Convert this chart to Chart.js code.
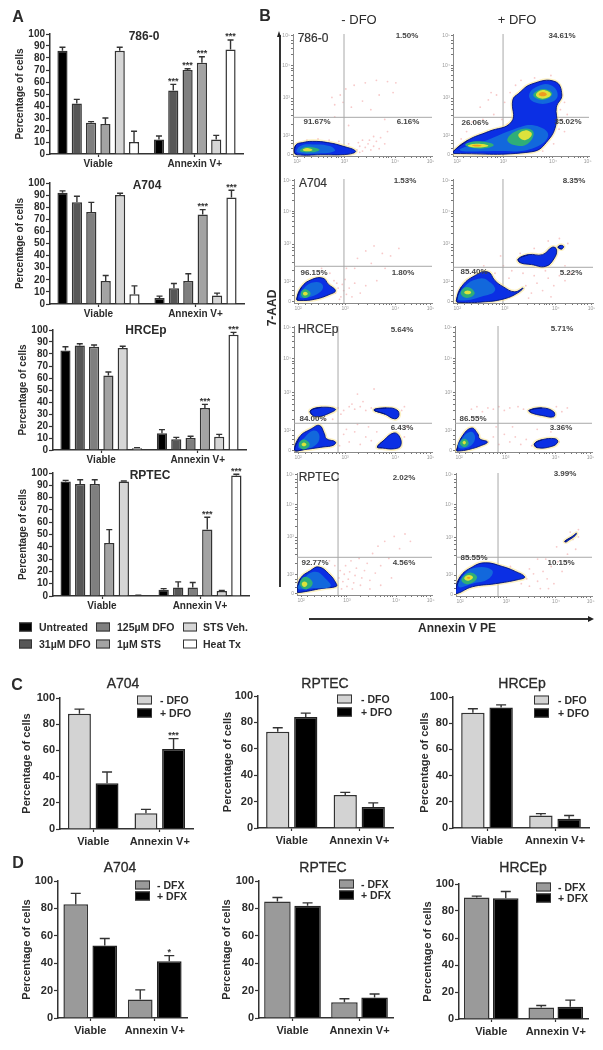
<!DOCTYPE html>
<html>
<head>
<meta charset="utf-8">
<script src="https://cdn.jsdelivr.net/npm/chart.js@4"></script>
<style>
html, body { margin: 0; padding: 0; background: #fff; }
#fig { position: relative; width: 603px; height: 1050px; overflow: hidden; filter: blur(0.55px); font-family: "Liberation Sans", sans-serif; color: #2b2b2b; }
#fig canvas { position: absolute; }
.txt { position: absolute; white-space: nowrap; transform: translate(-50%, -50%); }
.leg { position: absolute; white-space: nowrap; transform: translateY(-50%); font-weight: bold; }
.sw { position: absolute; box-sizing: border-box; border: 1.5px solid #333; transform: translateY(-50%); }
.rule { position: absolute; background: #333; }
</style>
</head>
<body>
<div id="fig"></div>
<script>
// ---- bar chart data ----
var categories = ['Viable', 'Annexin V+'];
var treatments = ['Untreated', '31µM DFO', '125µM DFO', '1µM STS', 'STS Veh.', 'Heat Tx'];
var pctTicks = [0, 10, 20, 30, 40, 50, 60, 70, 80, 90, 100];
var pctTicksWide = [0, 20, 40, 60, 80, 100];

var a786Viable = [86, 42, 26, 25, 86, 10];
var a786Annexin = [12, 53, 70, 76, 12, 87];
var a786ViableErr = [3, 3.5, 1, 5, 3, 9];
var a786AnnexinErr = [3, 5, 1, 5, 3.5, 8];
var a786Stars = ['', '***', '***', '***', '', '***'];

var a704Viable = [92, 84, 76, 19, 90, 8];
var a704Annexin = [5, 13, 19, 74, 7, 88];
var a704ViableErr = [1.5, 5, 8, 4.5, 1.5, 7];
var a704AnnexinErr = [1.5, 4, 6, 4, 2, 6];
var a704Stars = ['', '', '', '***', '', '***'];

var hrcViable = [83, 87, 86, 62, 85, 1.5];
var hrcAnnexin = [14, 9, 10, 35, 11, 96];
var hrcViableErr = [3, 1.5, 1.5, 3, 1.5, 0.5];
var hrcAnnexinErr = [3, 1.5, 1.5, 3, 2, 2];
var hrcStars = ['', '', '', '***', '', '***'];

var rptViable = [93, 91, 91, 43, 93, 0.5];
var rptAnnexin = [5, 7, 7, 54, 4, 98];
var rptViableErr = [1, 3.5, 3.5, 11, 0.5, 0.2];
var rptAnnexinErr = [1, 4.5, 4, 10, 0.5, 1];
var rptStars = ['', '', '', '***', '', '***'];

// panel C, - DFO / + DFO
var cA704Minus = [88, 12], cA704MinusErr = [3.5, 3];
var cA704Plus = [35, 61], cA704PlusErr = [8.5, 8];
var cA704PlusStars = ['', '***'];
var cRptMinus = [73, 25], cRptMinusErr = [3, 2];
var cRptPlus = [84, 16], cRptPlusErr = [3, 3];
var cHrcMinus = [88, 9.5], cHrcMinusErr = [3, 1.5];
var cHrcPlus = [92, 7], cHrcPlusErr = [2, 2.5];

// panel D, - DFX / + DFX
var dA704Minus = [83, 13.5], dA704MinusErr = [8, 7];
var dA704Plus = [53, 41.5], dA704PlusErr = [5, 4];
var dA704PlusStars = ['', '*'];
var dRptMinus = [85, 11.5], dRptMinusErr = [3, 2.5];
var dRptPlus = [82, 15], dRptPlusErr = [2, 2.5];
var dHrcMinus = [90, 8.5], dHrcMinusErr = [1, 1.5];
var dHrcPlus = [89.5, 9], dHrcPlusErr = [5, 5];

// ---- flow plots, axes run 0-100 along each plot ----
var flowXMajor = [3, 37, 73.5, 99];
var flowXLabels = ['10²', '10³', '10⁴', '10⁵'];
var flowXMinor = [8, 13, 18, 22, 25, 28, 31, 33, 35, 47, 53, 58, 62, 65, 67, 69, 71, 80, 85, 89, 92, 94, 96];
var flowYMajor = [1.4, 17, 47.5, 74, 98.6];
var flowYLabels = ['0', '10²', '10³', '10⁴', '10⁵'];
var flowYMinor = [6, 10, 13, 26, 33, 38, 42, 45, 56, 62, 66, 70, 72, 83, 88, 92, 95];

var pct786Minus = ['1.50%', '91.67%', '6.16%'];
var pct786Plus = ['34.61%', '26.06%', '35.02%'];
var pctA704Minus = ['1.53%', '96.15%', '1.80%'];
var pctA704Plus = ['8.35%', '85.40%', '5.22%'];
var pctHrcMinus = ['5.64%', '84.00%', '6.43%'];
var pctHrcPlus = ['5.71%', '86.55%', '3.36%'];
var pctRptMinus = ['2.02%', '92.77%', '4.56%'];
var pctRptPlus = ['3.99%', '85.55%', '10.15%'];

var gate786Minus = [36.7, 31.7], gate786Plus = [36.8, 31.7];
var gateA704Minus = [36.2, 29.6], gateA704Plus = [35.7, 28.8];
var gateHrcMinus = [31.9, 22.8], gateHrcPlus = [31.4, 22.8];
var gateRptMinus = [30.4, 30.9], gateRptPlus = [30.9, 31.5];

// sparse events
var pink786Minus = [[46,5],[48,8],[50,4],[52,7],[54,10],[56,5],[58,8],[60,12],[62,6],[47,11],[50,13],[55,13],[63,15],[66,10],[48,3],[58,16],[68,20],[10,13],[18,14],[26,13],[33,12],[40,10],[30,42],[34,50],[38,55],[44,58],[52,60],[60,62],[68,61],[74,60],[28,48],[36,44],[50,45],[62,50],[72,52],[42,40],[56,38],[66,30],[40,25],[30,32]];
var pink786Plus = [[20,40],[26,46],[32,50],[38,44],[30,34],[22,30],[36,30],[14,28],[42,52],[28,52],[78,58],[80,50],[82,44],[79,38],[84,34],[80,30],[78,22],[74,10],[82,20],[50,62],[46,58],[60,64],[72,66],[66,4],[40,26],[10,20],[6,14]];
var pinkA704Minus = [[30,8],[32,12],[34,5],[36,10],[31,16],[35,15],[38,7],[33,3],[29,18],[37,19],[40,12],[42,5],[44,16],[48,8],[52,14],[38,28],[46,36],[52,42],[58,46],[64,40],[70,38],[56,32],[44,28],[66,28],[76,44],[60,18],[26,24],[20,28]];
var pinkA704Plus = [[52,14],[56,8],[60,16],[64,10],[68,20],[72,14],[76,22],[80,18],[58,22],[66,26],[50,24],[42,26],[36,30],[30,24],[22,30],[48,40],[58,44],[68,50],[76,52],[82,48],[34,38],[80,30],[84,24],[54,4],[70,5],[40,20]];
var pinkHrcMinus = [[32,35],[36,33],[40,36],[44,34],[48,36],[52,33],[56,35],[78,33],[80,36],[34,30],[42,38],[50,40],[36,14],[40,8],[44,16],[48,6],[52,12],[56,9],[33,5],[38,18],[46,22],[54,20],[60,16],[80,12],[82,20],[28,26],[22,26],[46,46],[58,50]];
var pinkHrcPlus = [[12,34],[16,36],[20,32],[24,35],[28,34],[32,36],[36,33],[40,35],[46,36],[50,34],[74,36],[78,32],[82,35],[24,8],[28,12],[32,6],[36,14],[40,8],[44,12],[48,6],[52,10],[56,5],[76,8],[30,20],[42,20],[60,18],[70,16]];
var pinkRptMinus = [[30,8],[31,14],[32,20],[33,5],[34,11],[35,17],[36,24],[37,7],[38,13],[39,19],[40,28],[41,5],[42,10],[43,16],[44,22],[46,30],[47,8],[48,14],[50,20],[52,26],[54,12],[56,34],[58,18],[60,40],[62,24],[65,44],[68,30],[72,48],[76,38],[80,50],[70,14],[62,8],[28,24],[24,28],[84,44],[54,5]];
var pinkRptPlus = [[48,10],[52,14],[54,8],[57,18],[60,12],[62,6],[64,20],[67,14],[70,24],[72,10],[75,28],[78,20],[82,34],[86,46],[90,54],[74,40],[80,44],[84,52],[66,30],[60,30],[54,22],[46,18],[40,24],[88,38],[68,6],[90,48]];

// density contours
var m786Blue = [[1,3],[2,9],[7,11],[14,12],[25,11],[36,8],[45,4],[40,1.5],[20,1],[3,1]];
var m786Teal = [[3,3],[5,8],[14,9.5],[27,8],[30,4],[18,2]];
var m786Green = [[5,4],[8,7],[15,7],[19,5],[13,3]];
var m786Yellow = [[7,5],[10,6.5],[14,5],[10,3.8]];

var p786Blue = [[0,3.5],[11,13],[26,20],[43,28],[44,46],[48,51],[58,59],[75,61],[80,50],[76,40],[76,27],[70,13],[58,3.5],[1,2]];
var p786Teal1 = [[5,5],[25,13],[45,22],[60,25],[70,17],[58,6],[30,4]];
var p786Teal2 = [[56,50],[62,57],[72,58],[77,50],[72,44],[60,44]];
var p786Green1 = [[9,9],[18,12],[30,9],[20,6]];
var p786Green2 = [[40,14],[50,22],[59,20],[55,10],[45,9]];
var p786Green3 = [[59,50],[66,55],[73,51],[66,46]];
var p786Yellow1 = [[11,8.5],[18,10],[26,8.5],[18,7]];
var p786Yellow2 = [[48,17],[53,21],[58,18],[53,13]];
var p786Yellow3 = [[61,50],[66,54],[72,50.5],[66,47]];
var p786Orange1 = [[14,8.5],[17,9.2],[21,8.5],[17,7.8]];
var p786Orange2 = [[63,50.5],[66,52.5],[69,50.5],[66,49]];

var mA704Blue = [[2,3],[5.6,13],[13,19],[21,20],[25,15],[30,10],[26,7],[15,3],[4,2]];
var mA704Teal = [[4,5],[8,13],[16,17],[21,14],[18,8],[8,4]];
var mA704Green = [[5,7.5],[8,11],[12,7.5],[8,4]];
var mA704Yellow = [[6.5,7.5],[8,9],[10,7.5],[8,6]];

var pA704Blue1 = [[2.4,2],[6,13],[15.5,22],[25,25],[30,18],[36,13],[44,9],[50,12],[46,8],[37,3.5],[23,1],[3.5,0.5]];
var pA704Blue2 = [[46.6,35.5],[54,39],[64,39],[71,45],[74,43],[72,35.5],[66,29.5],[56,31],[48,32.5]];
var pA704Blue3 = [[75,45],[77,46.5],[79,45.5],[77.5,43.5]];
var pA704Teal = [[3.5,3.5],[8,13],[18,19.5],[25,18],[30,10],[20,5],[8,2]];
var pA704Green = [[5.5,8],[10,13],[15.5,8],[10,4]];
var pA704Yellow = [[8,8.5],[10.5,10],[13,8.5],[10.5,7]];

var mHrcBlue1 = [[0.5,1.3],[4,12],[12.6,18.4],[18.5,21],[22,14.5],[23.5,10.5],[30,8],[28.4,5.3],[21,4],[8,2]];
var mHrcBlue2 = [[12,33],[20,35.5],[30,34],[26,31],[17.5,28],[13,29.5]];
var mHrcBlue3 = [[58,33.4],[67,35],[74.5,33.4],[76,29],[73,26.3],[66,30]];
var mHrcBlue4 = [[60.4,4],[65,9.2],[72,15],[76,13],[77.4,5.3],[73,2.6],[63.6,3.2]];
var mHrcTeal = [[3,4],[8,12],[15,17],[18.5,12],[15,5],[6.5,2.6]];
var mHrcGreen = [[3.4,6],[7,10],[11.4,6],[7,2]];
var mHrcYellow = [[5.5,6],[7.2,7.5],[9,6],[7.2,4.5]];

var pHrcBlue1 = [[1.2,1.3],[5,12],[12,19],[16.6,14.5],[18,10.5],[23.6,8],[19.5,5.3],[10,2],[2.4,0.8]];
var pHrcBlue2 = [[54,33],[63.4,35],[72,32],[72,28],[63.4,29],[56,31]];
var pHrcBlue3 = [[58,6.6],[63.4,9.7],[73,10.5],[75,8],[70.7,4.5],[60,3.4]];
var pHrcTeal = [[2.4,4],[6,12],[12,16],[14.6,10.5],[10,4]];
var pHrcGreen = [[3.6,7],[7,10.5],[10,7],[7,4]];
var pHrcYellow = [[5.5,7.5],[6.8,9],[8,7.5],[6.8,6]];

var mRptBlue = [[0,3],[2.5,13.5],[10,20],[16,23],[23.5,17.5],[29,9.5],[29,7],[18.5,5.4],[1.2,2]];
var mRptTeal = [[0.7,5.4],[5,13.5],[13.6,19],[21,13.5],[24.7,7],[11,5.4]];
var mRptGreen = [[2,9],[6,15],[11.6,10],[7,4.6]];
var mRptYellow = [[3.5,9],[5.5,11],[7.7,9],[5.5,6.5]];

var pRptBlue1 = [[-0.5,3.5],[3,15.5],[12,23.6],[21.5,27],[34,24],[43.6,20],[50.5,15.5],[46,13.4],[29,10],[12,7.5],[0.7,2]];
var pRptBlue2 = [[80,44.5],[85,48],[88.5,51],[87.5,49],[83,45.5],[81,44]];
var pRptTeal = [[2,7.5],[5.6,17],[14,23],[26.5,21],[24,14],[12,10]];
var pRptGreen = [[4,13],[10,19],[15.5,15],[9,9.6]];
var pRptYellow = [[6,14.5],[9.5,17],[12.5,15],[9,12.5]];
var pRptOrange = [[8,14.8],[9.3,15.5],[10.5,14.8],[9.3,14]];

// ---- styles ----
var barFills = ['#000000', '#575757', '#7f7f7f', '#a3a3a3', '#d6d6d6', '#ffffff'];
var contourFills = { blue: '#0b2fe4', teal: '#1268dc', green: '#2fae78', yellow: '#dde23c', orange: '#ef9a20' };

Chart.defaults.font.family = '"Liberation Sans", sans-serif';
Chart.defaults.color = '#2b2b2b';
Chart.defaults.animation = false;

var fig = document.getElementById('fig');

function addCanvas(box, m) {
    var c = document.createElement('canvas');
    c.width = box.right - box.left + m.left + m.right;
    c.height = box.bottom - box.top + m.top + m.bottom;
    c.style.left = (box.left - m.left) + 'px';
    c.style.top = (box.top - m.top) + 'px';
    fig.appendChild(c);
    return c;
}

function text(str, cx, cy, css) {
    var d = document.createElement('div');
    d.className = 'txt';
    d.textContent = str;
    d.style.cssText = 'left:' + cx + 'px;top:' + cy + 'px;' + (css || '');
    fig.appendChild(d);
}

function legendRow(str, swLeft, swWidth, cy, fill, textLeft, fontSize) {
    var s = document.createElement('div');
    s.className = 'sw';
    s.style.cssText = 'left:' + swLeft + 'px;top:' + cy + 'px;width:' + swWidth + 'px;height:9px;background:' + fill;
    fig.appendChild(s);
    var t = document.createElement('div');
    t.className = 'leg';
    t.textContent = str;
    t.style.cssText = 'left:' + textLeft + 'px;top:' + cy + 'px;font-size:' + fontSize + 'px';
    fig.appendChild(t);
}

// error bars and significance stars, placed with the chart's own y scale
var errorBarPlugin = {
    id: 'errorBars',
    afterDatasetsDraw: function(chart) {
        var ctx = chart.ctx, y = chart.scales.y;
        var cap = chart.options.plugins.errorBars.cap;
        chart.data.datasets.forEach(function(ds, i) {
            chart.getDatasetMeta(i).data.forEach(function(bar, j) {
                var top = y.getPixelForValue(ds.data[j] + ds.errors[j]);
                ctx.save();
                ctx.strokeStyle = '#333';
                ctx.lineWidth = 1.4;
                ctx.beginPath();
                ctx.moveTo(bar.x, y.getPixelForValue(ds.data[j]));
                ctx.lineTo(bar.x, top);
                ctx.moveTo(bar.x - cap, top);
                ctx.lineTo(bar.x + cap, top);
                ctx.stroke();
                if (ds.stars && ds.stars[j]) {
                    ctx.fillStyle = '#333';
                    ctx.font = 'bold 9px "Liberation Sans"';
                    ctx.textAlign = 'center';
                    ctx.textBaseline = 'middle';
                    ctx.fillText(ds.stars[j], bar.x, top - 3);
                }
                ctx.restore();
            });
        });
    }
};

function barChart(box, datasets, opts) {
    var m = { left: opts.ml, right: 4, top: 8, bottom: 20 };
    var fs = opts.fontSize;
    return new Chart(addCanvas(box, m), {
        type: 'bar',
        data: { labels: categories, datasets: datasets },
        plugins: [errorBarPlugin],
        options: {
            responsive: false,
            layout: { padding: { top: m.top, right: m.right } },
            barPercentage: opts.barPct,
            categoryPercentage: opts.catPct,
            plugins: { legend: { display: false }, tooltip: { enabled: false }, errorBars: { cap: opts.cap } },
            scales: {
                x: {
                    afterFit: function(s) { s.height = m.bottom; },
                    border: { color: '#333', width: 1.5 },
                    grid: { drawOnChartArea: false, offset: false, tickLength: 3, tickColor: '#333', tickWidth: 1.2 },
                    ticks: { font: { size: fs, weight: 'bold' }, padding: opts.xPad, maxRotation: 0 }
                },
                y: {
                    min: 0, max: 100,
                    afterFit: function(s) { s.width = m.left; },
                    afterBuildTicks: function(s) { s.ticks = opts.yTicks.map(function(v) { return { value: v }; }); },
                    border: { color: '#333', width: 1.5 },
                    grid: { drawOnChartArea: false, tickLength: 4, tickColor: '#333', tickWidth: 1.2 },
                    ticks: { font: { size: fs, weight: 'bold' }, padding: 1, autoSkip: false },
                    title: { display: true, text: 'Percentage of cells', font: { size: fs, weight: 'bold' }, padding: { top: 0, bottom: opts.titlePad } }
                }
            }
        }
    });
}

// ---- panel A ----
function panelA(box, viable, annexin, viableErr, annexinErr, stars, title, tx, ty) {
    var sets = treatments.map(function(name, i) {
        return {
            label: name,
            data: [viable[i], annexin[i]],
            errors: [viableErr[i], annexinErr[i]],
            stars: ['', stars[i]],
            backgroundColor: barFills[i],
            borderColor: '#333',
            borderWidth: 1.5
        };
    });
    barChart(box, sets, { ml: 36, fontSize: 10, xPad: 1, barPct: 0.71, catPct: 0.89, cap: 3, yTicks: pctTicks, titlePad: 1 });
    text(title, tx, ty, 'font-weight:bold;font-size:12px');
}
panelA({ left: 50, right: 243, top: 34, bottom: 154 }, a786Viable, a786Annexin, a786ViableErr, a786AnnexinErr, a786Stars, '786-0', 144, 36);
panelA({ left: 50, right: 244, top: 183, bottom: 304 }, a704Viable, a704Annexin, a704ViableErr, a704AnnexinErr, a704Stars, 'A704', 147, 185);
panelA({ left: 53, right: 246, top: 330, bottom: 450 }, hrcViable, hrcAnnexin, hrcViableErr, hrcAnnexinErr, hrcStars, 'HRCEp', 146, 330);
panelA({ left: 53, right: 249, top: 473, bottom: 596 }, rptViable, rptAnnexin, rptViableErr, rptAnnexinErr, rptStars, 'RPTEC', 150, 475);

legendRow(treatments[0], 19, 13, 627, barFills[0], 39, 10.5);
legendRow(treatments[1], 19, 13, 644, barFills[1], 39, 10.5);
legendRow(treatments[2], 96, 14, 627, barFills[2], 117, 10.5);
legendRow(treatments[3], 96, 14, 644, barFills[3], 117, 10.5);
legendRow(treatments[4], 183, 14, 627, barFills[4], 203, 10.5);
legendRow(treatments[5], 183, 14, 644, barFills[5], 203, 10.5);

// ---- panels C and D ----
function panelPair(box, minus, minusErr, plus, plusErr, plusStars, fill, names, title, tx, ty, ml, legend) {
    var sets = [
        { label: names[0], data: minus, errors: minusErr, backgroundColor: fill, borderColor: '#333', borderWidth: 1.5 },
        { label: names[1], data: plus, errors: plusErr, stars: plusStars, backgroundColor: '#000', borderColor: '#222', borderWidth: 1.5 }
    ];
    barChart(box, sets, { ml: ml, fontSize: 11, xPad: 3, barPct: legend.bar, catPct: legend.cat, cap: 5, yTicks: pctTicksWide, titlePad: 3 });
    text(title, tx, ty, 'font-size:14px;-webkit-text-stroke:0.3px #2b2b2b');
    legendRow(names[0], legend.sw, 15, legend.y1, fill, legend.tx, 10.5);
    legendRow(names[1], legend.sw, 15, legend.y2, '#000', legend.tx, 10.5);
}
var dfoNames = ['- DFO', '+ DFO'], dfxNames = ['- DFX', '+ DFX'];
panelPair({ left: 60, right: 193, top: 698, bottom: 829 }, cA704Minus, cA704MinusErr, cA704Plus, cA704PlusErr, cA704PlusStars, '#d3d3d3', dfoNames, 'A704', 123, 683, 40, { sw: 137, y1: 700, y2: 713, tx: 160, bar: 0.83, cat: 0.83 });
panelPair({ left: 258, right: 393, top: 696, bottom: 828 }, cRptMinus, cRptMinusErr, cRptPlus, cRptPlusErr, null, '#d3d3d3', dfoNames, 'RPTEC', 325, 683, 37, { sw: 337, y1: 699, y2: 712, tx: 361, bar: 0.83, cat: 0.83 });
panelPair({ left: 453, right: 589, top: 697, bottom: 828 }, cHrcMinus, cHrcMinusErr, cHrcPlus, cHrcPlusErr, null, '#d3d3d3', dfoNames, 'HRCEp', 522, 683, 35, { sw: 534, y1: 700, y2: 713, tx: 558, bar: 0.83, cat: 0.83 });
panelPair({ left: 58, right: 187, top: 881, bottom: 1018 }, dA704Minus, dA704MinusErr, dA704Plus, dA704PlusErr, dA704PlusStars, '#9a9a9a', dfxNames, 'A704', 120, 867, 38, { sw: 135, y1: 885, y2: 896, tx: 157, bar: 0.85, cat: 0.9 });
panelPair({ left: 259, right: 393, top: 881, bottom: 1018 }, dRptMinus, dRptMinusErr, dRptPlus, dRptPlusErr, null, '#9a9a9a', dfxNames, 'RPTEC', 323, 867, 39, { sw: 339, y1: 884, y2: 895, tx: 361, bar: 0.88, cat: 0.9 });
panelPair({ left: 459, right: 588, top: 884, bottom: 1019 }, dHrcMinus, dHrcMinusErr, dHrcPlus, dHrcPlusErr, null, '#9a9a9a', dfxNames, 'HRCEp', 523, 867, 38, { sw: 536, y1: 887, y2: 898, tx: 558, bar: 0.88, cat: 0.9 });

// ---- panel B flow plots ----
function toPoints(pairs) {
    return pairs.map(function(p) { return { x: p[0], y: p[1] }; });
}
// wrap round one point past each end so the spline has no corner where it closes
function closed(pairs) {
    return toPoints([pairs[pairs.length - 1]].concat(pairs, [pairs[0], pairs[1]]));
}

function flowChart(box, gate, pink, contours) {
    var m = { left: 12, right: 5, top: 3, bottom: 10 };
    var sets = [];
    sets.push({ data: toPoints(pink), showLine: false, pointRadius: 0.9, pointBackgroundColor: 'rgba(236,120,120,0.4)', pointBorderWidth: 0 });
    sets.push({ data: toPoints([[gate[0], 0], [gate[0], 100]]), showLine: true, pointRadius: 0, borderColor: '#a8a8a8', borderWidth: 1 });
    sets.push({ data: toPoints([[0, gate[1]], [100, gate[1]]]), showLine: true, pointRadius: 0, borderColor: '#a8a8a8', borderWidth: 1 });
    contours.forEach(function(c) {
        if (c[0] === 'blue') {
            // pale rim the density plot draws round each island
            sets.push({ data: closed(c[1]), showLine: true, pointRadius: 0, tension: 0.45, borderColor: 'rgba(250,225,130,0.5)', borderWidth: 4, fill: false });
        }
        sets.push({
            data: closed(c[1]), showLine: true, pointRadius: 0, tension: 0.45, fill: 'shape',
            backgroundColor: contourFills[c[0]],
            borderColor: c[0] === 'blue' ? '#00127a' : contourFills[c[0]],
            borderWidth: c[0] === 'blue' ? 0.9 : 0
        });
    });
    // later datasets paint over earlier ones
    sets.forEach(function(s, i) { s.order = sets.length - i; });

    function tickLabel(value, major, labels) {
        var i = major.indexOf(value);
        return i >= 0 ? labels[i] : '';
    }
    function tickSet(major, minor) {
        return function(s) { s.ticks = major.concat(minor).map(function(v) { return { value: v }; }); };
    }
    new Chart(addCanvas(box, m), {
        type: 'scatter',
        data: { datasets: sets },
        options: {
            responsive: false,
            layout: { padding: { top: m.top, right: m.right } },
            plugins: { legend: { display: false }, tooltip: { enabled: false } },
            scales: {
                x: {
                    min: 0, max: 100,
                    afterFit: function(s) { s.height = m.bottom; },
                    afterBuildTicks: tickSet(flowXMajor, flowXMinor),
                    border: { color: '#8a8a8a', width: 1 },
                    grid: { drawOnChartArea: false, tickLength: 2, tickColor: '#777' },
                    ticks: { autoSkip: false, maxRotation: 0, padding: 1, color: '#999', font: { size: 5 },
                        callback: function(v) { return tickLabel(v, flowXMajor, flowXLabels); } }
                },
                y: {
                    min: 0, max: 100,
                    afterFit: function(s) { s.width = m.left; },
                    afterBuildTicks: tickSet(flowYMajor, flowYMinor),
                    border: { color: '#8a8a8a', width: 1 },
                    grid: { drawOnChartArea: false, tickLength: 2, tickColor: '#777' },
                    ticks: { autoSkip: false, padding: 1, color: '#999', font: { size: 5 },
                        callback: function(v) { return tickLabel(v, flowYMajor, flowYLabels); } }
                }
            }
        }
    });
}

var pctCss = 'font-size:8px;font-weight:bold;color:#444';
function flowLabels(pct, upper, left, right) {
    text(pct[0], upper[0], upper[1], pctCss);
    text(pct[1], left[0], left[1], pctCss);
    text(pct[2], right[0], right[1], pctCss);
}
var lineCss = 'font-size:12px;color:#333;-webkit-text-stroke:0.2px #333';

flowChart({ left: 293, right: 432, top: 33, bottom: 156 }, gate786Minus, pink786Minus, [['blue', m786Blue], ['teal', m786Teal], ['green', m786Green], ['yellow', m786Yellow]]);
flowChart({ left: 453, right: 589, top: 33, bottom: 156 }, gate786Plus, pink786Plus, [['blue', p786Blue], ['teal', p786Teal1], ['teal', p786Teal2], ['green', p786Green1], ['green', p786Green2], ['green', p786Green3], ['yellow', p786Yellow1], ['yellow', p786Yellow2], ['yellow', p786Yellow3], ['orange', p786Orange1], ['orange', p786Orange2]]);
flowChart({ left: 294, right: 432, top: 178, bottom: 303 }, gateA704Minus, pinkA704Minus, [['blue', mA704Blue], ['teal', mA704Teal], ['green', mA704Green], ['yellow', mA704Yellow]]);
flowChart({ left: 453, right: 593, top: 178, bottom: 303 }, gateA704Plus, pinkA704Plus, [['blue', pA704Blue1], ['blue', pA704Blue2], ['blue', pA704Blue3], ['teal', pA704Teal], ['green', pA704Green], ['yellow', pA704Yellow]]);
flowChart({ left: 294, right: 432, top: 325, bottom: 452 }, gateHrcMinus, pinkHrcMinus, [['blue', mHrcBlue1], ['blue', mHrcBlue2], ['blue', mHrcBlue3], ['blue', mHrcBlue4], ['teal', mHrcTeal], ['green', mHrcGreen], ['yellow', mHrcYellow]]);
flowChart({ left: 455, right: 592, top: 325, bottom: 452 }, gateHrcPlus, pinkHrcPlus, [['blue', pHrcBlue1], ['blue', pHrcBlue2], ['blue', pHrcBlue3], ['teal', pHrcTeal], ['green', pHrcGreen], ['yellow', pHrcYellow]]);
flowChart({ left: 297, right: 432, top: 472, bottom: 595 }, gateRptMinus, pinkRptMinus, [['blue', mRptBlue], ['teal', mRptTeal], ['green', mRptGreen], ['yellow', mRptYellow]]);
flowChart({ left: 456, right: 592, top: 472, bottom: 596 }, gateRptPlus, pinkRptPlus, [['blue', pRptBlue1], ['blue', pRptBlue2], ['teal', pRptTeal], ['green', pRptGreen], ['yellow', pRptYellow], ['orange', pRptOrange]]);

flowLabels(pct786Minus, [407, 35], [317, 121], [408, 121]);
flowLabels(pct786Plus, [562, 35], [475, 122], [568, 121]);
flowLabels(pctA704Minus, [405, 180], [314, 272], [403, 272]);
flowLabels(pctA704Plus, [574, 180], [474, 271], [571, 272]);
flowLabels(pctHrcMinus, [402, 329], [313, 418], [402, 427]);
flowLabels(pctHrcPlus, [562, 328], [473, 418], [561, 427]);
flowLabels(pctRptMinus, [404, 477], [315, 562], [404, 562]);
flowLabels(pctRptPlus, [565, 473], [474, 557], [561, 562]);

text('786-0', 313, 38, lineCss);
text('A704', 313, 183, lineCss);
text('HRCEp', 318, 329, lineCss);
text('RPTEC', 319, 477, lineCss);
text('- DFO', 359, 19, 'font-size:13px');
text('+ DFO', 517, 19, 'font-size:13px');

// the big axis arrows of panel B
function rule(left, top, w, h) {
    var d = document.createElement('div');
    d.className = 'rule';
    d.style.cssText = 'left:' + left + 'px;top:' + top + 'px;width:' + w + 'px;height:' + h + 'px';
    fig.appendChild(d);
}
rule(279, 35, 1.5, 552);
rule(309, 618, 282, 1.5);
var upHead = document.createElement('div');
upHead.style.cssText = 'position:absolute;left:277px;top:31px;border-left:2.8px solid transparent;border-right:2.8px solid transparent;border-bottom:6px solid #222';
fig.appendChild(upHead);
var rightHead = document.createElement('div');
rightHead.style.cssText = 'position:absolute;left:588px;top:616px;border-top:3px solid transparent;border-bottom:3px solid transparent;border-left:6px solid #222';
fig.appendChild(rightHead);
text('7-AAD', 272, 308, 'font-size:12px;font-weight:bold;transform:translate(-50%,-50%) rotate(-90deg)');
text('Annexin V PE', 457, 628, 'font-size:12px;font-weight:bold');

// panel letters
text('A', 18, 17, 'font-size:16px;font-weight:bold');
text('B', 265, 16, 'font-size:16px;font-weight:bold');
text('C', 17, 685, 'font-size:16px;font-weight:bold');
text('D', 18, 863, 'font-size:16px;font-weight:bold');
</script>
</body>
</html>
